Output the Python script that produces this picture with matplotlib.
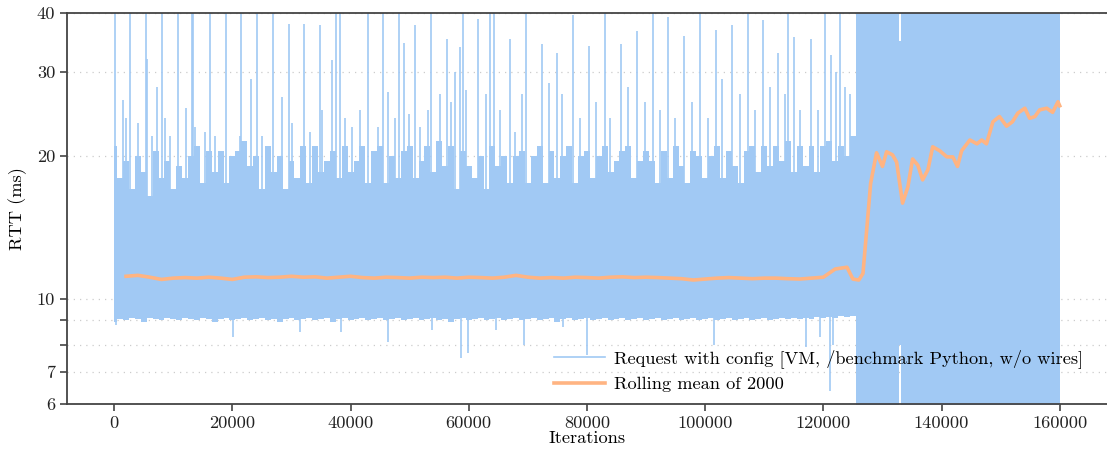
import matplotlib
matplotlib.use("Agg")
import matplotlib.pyplot as plt
from matplotlib.lines import Line2D

# ── Style: LaTeX-like serif, seaborn pastel colours ─────────────────────────
plt.rcParams["font.family"] = "serif"
plt.rcParams["font.serif"] = ["cmr10", "DejaVu Serif"]
plt.rcParams["mathtext.fontset"] = "cm"
plt.rcParams["axes.formatter.use_mathtext"] = True

BLUE   = "#a1c9f4"
ORANGE = "#ffb482"
SPINE  = "#444444"
GRID   = "#cccccc"
FS     = 13.2

# ── Data ────────────────────────────────────────────────────────────────────
# dense band of the raw RTT samples, one point per 1000 iterations
band_x = list(range(0, 126000, 1000)) + list(range(126000, 132001, 1000)) + \
    [132750, 133000, 133250] + list(range(134000, 160001, 1000))
band_hi = [
    21.0, 18.0, 19.5, 17.0, 20.0, 18.5, 16.5, 20.5, 18.0, 19.5,
    17.0, 19.0, 18.0, 20.0, 21.0, 17.5, 20.5, 18.5, 20.5, 17.5,
    20.0, 20.5, 21.5, 19.0, 20.0, 17.0, 21.0, 18.5, 20.0, 17.0,
    19.5, 18.0, 21.0, 17.5, 21.0, 18.5, 19.5, 20.5, 18.0, 21.0,
    18.5, 19.5, 21.0, 17.5, 20.5, 21.0, 17.5, 20.0, 18.0, 20.5,
    21.0, 18.0, 19.5, 21.0, 18.5, 21.5, 19.0, 21.0, 17.0, 20.5,
    19.0, 18.0, 20.0, 17.0, 21.0, 19.0, 20.0, 17.5, 20.0, 20.5,
    17.5, 20.0, 21.0, 17.5, 20.5, 18.0, 20.0, 21.0, 17.5, 20.0,
    20.5, 18.0, 20.0, 21.0, 18.5, 19.5, 20.5, 21.0, 18.0, 19.5,
    20.5, 19.5, 17.5, 20.5, 18.0, 21.0, 19.0, 17.5, 20.5, 20.0,
    18.0, 20.0, 21.0, 18.0, 20.5, 19.0, 17.5, 20.5, 21.0, 18.5,
    21.0, 19.0, 21.0, 19.5, 21.5, 18.5, 21.0, 19.0, 21.0, 18.5,
    21.0, 21.5, 19.5, 21.0, 20.0, 22.0,
    45.0, 45.0, 45.0, 45.0, 45.0, 45.0, 45.0,
    45.0, 35.0, 45.0,
    45.0, 45.0, 45.0, 45.0, 45.0, 45.0, 45.0, 45.0, 45.0, 45.0,
    45.0, 45.0, 45.0, 45.0, 45.0, 45.0, 45.0, 45.0, 45.0, 45.0,
    45.0, 45.0, 45.0, 45.0, 45.0, 45.0, 45.0,
]
band_lo = [
    8.95, 9.05, 9.00, 9.10, 9.05, 8.95, 9.10, 9.05, 9.00, 9.10,
    9.05, 9.00, 9.10, 9.05, 9.00, 9.10, 9.05, 8.95, 9.05, 9.10,
    9.00, 9.05, 9.10, 9.00, 9.05, 9.10, 9.00, 9.05, 8.95, 9.05,
    9.10, 9.00, 9.05, 9.10, 9.00, 9.05, 9.10, 8.95, 9.05, 9.10,
    9.00, 9.05, 9.10, 9.00, 9.05, 9.10, 9.00, 9.05, 9.10, 9.00,
    9.05, 9.10, 9.00, 9.05, 9.10, 9.00, 9.05, 8.95, 9.05, 9.10,
    9.00, 9.05, 9.10, 9.00, 9.05, 9.10, 9.00, 9.05, 9.10, 9.00,
    9.05, 9.10, 9.00, 9.05, 9.10, 8.95, 9.05, 9.10, 9.00, 9.05,
    9.10, 9.00, 9.05, 9.10, 9.00, 9.05, 9.10, 9.00, 9.05, 9.10,
    9.00, 9.05, 9.10, 9.00, 9.05, 9.10, 9.00, 9.05, 9.10, 9.00,
    9.05, 9.10, 9.00, 9.05, 9.10, 9.00, 9.05, 9.10, 9.00, 9.05,
    9.10, 9.00, 9.05, 9.10, 9.05, 9.10, 9.05, 9.10, 9.05, 9.15,
    9.10, 9.15, 9.10, 9.20, 9.15, 9.20,
    5.5, 5.5, 5.5, 5.5, 5.5, 5.5, 5.5,
    5.5, 8.0, 5.5,
    5.5, 5.5, 5.5, 5.5, 5.5, 5.5, 5.5, 5.5, 5.5, 5.5,
    5.5, 5.5, 5.5, 5.5, 5.5, 5.5, 5.5, 5.5, 5.5, 5.5,
    5.5, 5.5, 5.5, 5.5, 5.5, 5.5, 5.5,
]

# isolated latency spikes above the band (iteration, RTT ms)
spike_x = [
    200, 2700, 5400, 8100, 10800, 13200, 13400, 16200, 18900, 21500,
    24200, 26900, 37500, 38200, 43000, 45500, 48200, 53600, 59000, 63600,
    64300, 69700, 83000, 91200, 99100, 107200, 114000, 120300, 122800,
    1500, 2000, 4100, 5600, 6400, 7300, 8600, 9500, 12200, 13700,
    15400, 17100, 21300, 23200, 25000, 28400, 29600, 30100, 32100, 33100,
    34800, 35200, 36900, 39100, 40300, 41600, 44700, 46300, 47500, 49000,
    49900, 50900, 51800, 53100, 55100, 56300, 57000, 57700, 58500, 59500,
    61600, 62900, 65300, 67000, 67800, 69000, 72400, 73600, 74900, 75800,
    77600, 78800, 80300, 81500, 83900, 85700, 86900, 88500, 89800, 92300,
    93700, 94900, 96400, 97800, 100500, 101800, 102800, 104500, 105900, 108400,
    109800, 110900, 112300, 113500, 115000, 116000, 117900, 119100, 121300, 122100,
    123600, 124500,
]
spike_hi = [
    45, 45, 45, 45, 45, 45, 45, 45, 45, 45,
    45, 45, 45, 45, 45, 45, 45, 45, 45, 45,
    45, 45, 45, 45, 45, 45, 45, 45, 45,
    26.2, 24.0, 23.5, 32.0, 22.0, 28.0, 24.0, 22.0, 25.2, 23.0,
    22.5, 22.0, 22.0, 29.1, 22.0, 26.6, 38.0, 23.5, 37.9, 22.5,
    37.7, 25.0, 31.8, 24.0, 23.0, 25.0, 23.0, 27.3, 24.0, 34.6,
    24.5, 37.7, 23.0, 25.0, 27.0, 35.2, 26.0, 30.0, 33.9, 27.5,
    38.9, 27.0, 25.0, 35.2, 22.5, 27.0, 34.4, 28.5, 33.0, 27.0,
    39.6, 24.0, 34.0, 26.0, 24.0, 34.4, 28.0, 36.7, 26.0, 25.0,
    39.2, 24.0, 35.8, 26.0, 24.0, 36.9, 29.0, 37.7, 27.0, 25.0,
    38.7, 28.0, 33.0, 27.0, 35.6, 25.0, 35.3, 25.0, 32.7, 30.0,
    28.0, 27.0,
]

# isolated dips below the band
dip_x  = [300, 20100, 31500, 38400, 46300, 53800, 58700, 59900, 64600, 69300,
          75900, 80000, 101500, 117000, 119400, 121100, 121600]
dip_lo = [8.8, 8.3, 8.5, 8.5, 8.1, 8.6, 7.5, 7.7, 8.6, 8.0,
          8.7, 7.6, 8.0, 7.9, 8.3, 6.4, 8.0]

# rolling mean of 2000 samples
roll_x = list(range(2000, 124001, 2000)) + [
    125000, 126000, 126700, 127300, 128000, 129000, 130000, 130700, 131700,
    132400, 133400, 134300, 135100, 136000, 136800, 137700, 138500, 139700,
    140900, 141900, 142700, 143400, 144800, 146000, 146800, 147600, 148700,
    149800, 151000, 152000, 152900, 154100, 154900, 155800, 156600, 157800,
    158800, 159700, 160000,
]
roll_y = [
    11.15, 11.20, 11.10, 10.98, 11.05, 11.08, 11.05, 11.10, 11.05, 10.98,
    11.10, 11.12, 11.08, 11.10, 11.15, 11.10, 11.12, 11.05, 11.10, 11.15,
    11.08, 11.05, 11.10, 11.08, 11.05, 11.10, 11.08, 11.10, 11.05, 11.10,
    11.08, 11.05, 11.10, 11.20, 11.10, 11.05, 11.08, 11.05, 11.10, 11.08,
    11.05, 11.10, 11.12, 11.08, 11.10, 11.08, 11.05, 11.02, 10.95, 11.00,
    11.05, 11.08, 11.05, 11.02, 11.05, 11.05, 11.02, 11.00, 11.05, 11.10,
    11.55, 11.65,
    11.00, 10.95, 11.30, 13.80, 17.50, 20.30, 19.00, 20.40, 20.10,
    19.40, 15.90, 17.20, 19.70, 19.10, 17.80, 18.70, 20.90, 20.50,
    19.90, 19.90, 19.00, 20.50, 21.60, 21.20, 21.60, 21.20, 23.60,
    24.20, 23.10, 23.60, 24.60, 25.20, 24.00, 24.20, 25.00, 25.20,
    24.70, 26.00, 25.50,
]

yticks       = [6, 7, 8, 9, 10, 20, 30, 40]
ytick_labels = ["6", "7", "", "", "10", "20", "30", "40"]
xticks       = list(range(0, 160001, 20000))

# ── Figure ──────────────────────────────────────────────────────────────────
fig = plt.figure(figsize=(11.07, 4.53), dpi=100)
ax = fig.add_axes([0.0605, 0.1082, 0.9395, 0.8631])

ax.fill_between(band_x, band_lo, band_hi, step="mid", color=BLUE, lw=0, zorder=2)
ax.vlines(spike_x, 15, spike_hi, color=BLUE, lw=1.2, zorder=2)
ax.vlines(dip_x, dip_lo, 10, color=BLUE, lw=1.2, zorder=2)
ax.plot(roll_x, roll_y, color=ORANGE, lw=2.6, zorder=3)

ax.set_yscale("log")
ax.set_ylim(6, 40)
ax.set_xlim(-8000, 168000)
ax.set_yticks(yticks)
ax.set_yticklabels(ytick_labels)
ax.yaxis.set_minor_locator(matplotlib.ticker.NullLocator())
ax.set_xticks(xticks)
ax.set_xticklabels([str(t) for t in xticks])

ax.grid(True, axis="y", which="major", color=GRID, ls=(0, (1, 4)), lw=0.9, zorder=0)
ax.set_axisbelow(True)

for side in ["left", "bottom", "top"]:
    ax.spines[side].set_color(SPINE)
    ax.spines[side].set_linewidth(1.3)
ax.spines["right"].set_visible(False)
ax.tick_params(colors="#222222", labelsize=FS, length=5, width=1.2, color=SPINE)

ax.set_xlabel("Iterations", fontsize=FS, labelpad=0)
ax.set_ylabel("RTT (ms)", fontsize=FS, labelpad=7)

handles = [
    Line2D([], [], color=BLUE, lw=1.2),
    Line2D([], [], color=ORANGE, lw=2.6),
]
labels = [
    "Request with config [VM, /benchmark Python, w/o wires]",
    "Rolling mean of 2000",
]
ax.legend(handles, labels, loc="lower right", frameon=False, fontsize=FS,
          bbox_to_anchor=(0.993, -0.012), handlelength=2.8, handletextpad=0.5,
          labelspacing=0.45)

fig.savefig("out.png", dpi=100)
